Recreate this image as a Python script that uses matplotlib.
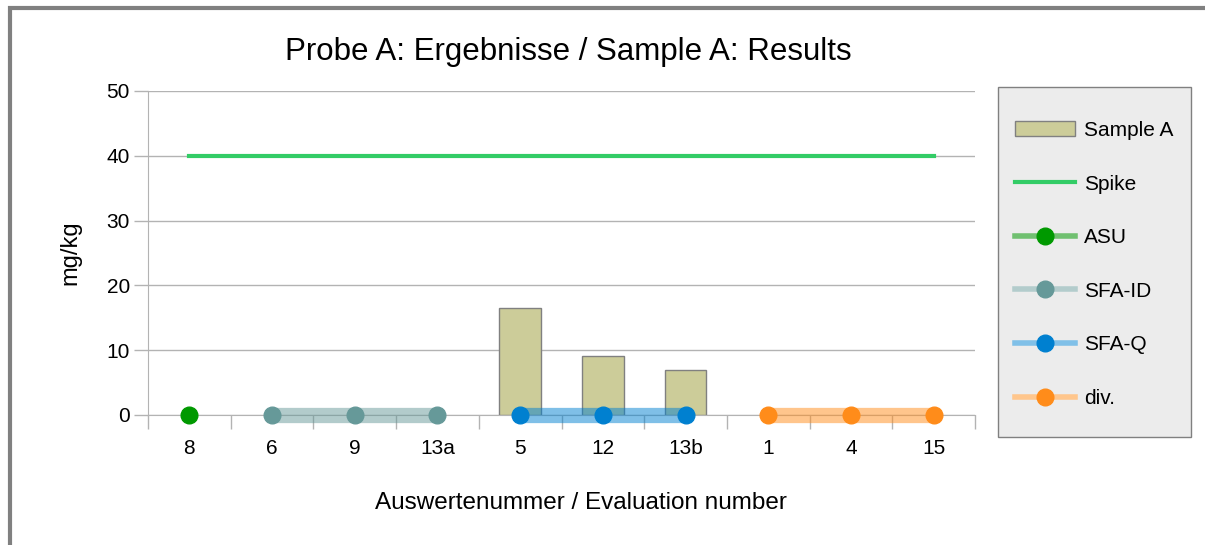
import matplotlib
matplotlib.use("Agg")
import matplotlib.pyplot as plt
from matplotlib.patches import Rectangle, Patch
from matplotlib.lines import Line2D
import numpy as np

plt.rcParams['font.family'] = ['Liberation Sans', 'DejaVu Sans']

categories = ['8', '6', '9', '13a', '5', '12', '13b', '1', '4', '15']
sample_a = [0, 0, 0, 0, 16.5, 9.1, 6.9, 0, 0, 0]
spike = 40

# lab groups: category labels and values
asu_cats = ['8']
asu_vals = [0]
sfa_id_cats = ['6', '9', '13a']
sfa_id_vals = [0, 0, 0]
sfa_q_cats = ['5', '12', '13b']
sfa_q_vals = [0, 0, 0]
div_cats = ['1', '4', '15']
div_vals = [0, 0, 0]

W, H = 1205, 545
fig = plt.figure(figsize=(W / 100, H / 100), dpi=100)
ax = fig.add_axes([148 / W, 130 / H, 827 / W, 324 / H])

# frame around the figure (only left/top visible)
fig.patches.append(Rectangle((9.5 / W, -0.1), 1.2, 1 - 8.5 / H + 0.1,
                             transform=fig.transFigure, fill=False,
                             edgecolor='#808080', linewidth=3, zorder=0))

x = np.arange(len(categories))
idx = {c: i for i, c in enumerate(categories)}

mask = [v > 0 for v in sample_a]
ax.bar(x[mask], np.array(sample_a)[mask], width=0.5, color='#cccc99',
       edgecolor='#808080', linewidth=1, zorder=2)
ax.plot([x[0], x[-1]], [spike, spike], color='#33cc66', linewidth=3, zorder=3)

handles = [Patch(facecolor='#cccc99', edgecolor='#808080', linewidth=1),
           Line2D([], [], color='#33cc66', linewidth=3)]
labels = ['Sample A', 'Spike']


def group(cats, vals, mark_c, legend_line_c, name):
    xs = [idx[c] for c in cats]
    ax.plot(xs, vals, color=mark_c, linewidth=11, solid_capstyle='butt',
            alpha=0.5, zorder=4, clip_on=False)
    ax.plot(xs, vals, linestyle='none', marker='o', markersize=12,
            color=mark_c, zorder=5, clip_on=False)
    handles.append(Line2D([], [], color=legend_line_c, linewidth=4,
                          marker='o', markersize=12, markerfacecolor=mark_c,
                          markeredgecolor=mark_c))
    labels.append(name)


group(asu_cats, asu_vals, '#009900', '#70c070', 'ASU')
group(sfa_id_cats, sfa_id_vals, '#669999', '#b3cccc', 'SFA-ID')
group(sfa_q_cats, sfa_q_vals, '#0080d0', '#80c0e8', 'SFA-Q')
group(div_cats, div_vals, '#ff8c1a', '#ffc68c', 'div.')

ax.set_xlim(-0.5, len(categories) - 0.5)
ax.set_ylim(0, 50)
ax.set_yticks([0, 10, 20, 30, 40, 50])
ax.set_xticks(x)
ax.set_xticklabels(categories)
ax.set_xticks(np.arange(-0.5, len(categories)), minor=True)
ax.tick_params(axis='x', which='major', length=0, pad=17, labelsize=15)
ax.tick_params(axis='x', which='minor', length=10, color='#b3b3b3', width=1)
ax.tick_params(axis='y', length=10, color='#b3b3b3', width=1, labelsize=15,
               pad=3)
ax.grid(axis='y', color='#b3b3b3', linewidth=1, zorder=0)
ax.set_axisbelow(True)
for s in ['top', 'right']:
    ax.spines[s].set_visible(False)
ax.spines['left'].set_color('#b3b3b3')
ax.spines['bottom'].set_color('#b3b3b3')

ax.set_title('Probe A: Ergebnisse / Sample A: Results', fontsize=22.5, pad=22,
             x=0.508)
ax.set_ylabel('mg/kg', fontsize=17, labelpad=18)
ax.set_xlabel('Auswertenummer / Evaluation number', fontsize=17.5)
ax.xaxis.set_label_coords(0.5236, -77 / 324)

# legend box drawn by hand, legend itself without frame
fig.patches.append(Rectangle((998 / W, 1 - 437 / H), 193 / W, 350 / H,
                             transform=fig.transFigure, facecolor='#ececec',
                             edgecolor='#808080', linewidth=1, zorder=1))
fig.legend(handles, labels, loc='upper left',
           bbox_to_anchor=(1015 / W, 1 - 121 / H), fontsize=15,
           frameon=False, borderpad=0, borderaxespad=0,
           handlelength=2.9, labelspacing=1.66, handletextpad=0.4)

fig.savefig('out.png', dpi=100)
